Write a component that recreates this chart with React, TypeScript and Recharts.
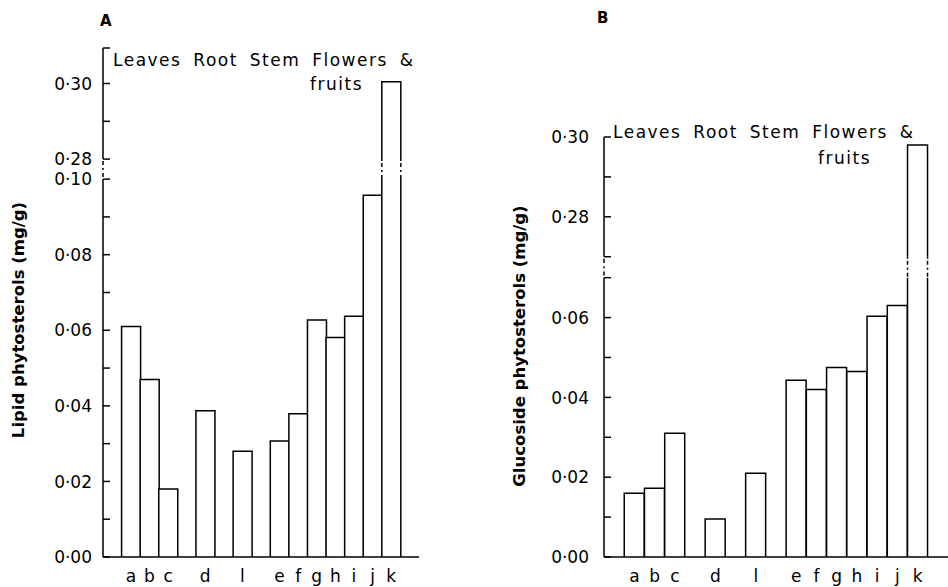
import React from 'react'
import { BarChart, Bar, XAxis, YAxis } from 'recharts'

// Plant parts, in the order drawn on the x axis
const categories = ['a', 'b', 'c', 'd', 'l', 'e', 'f', 'g', 'h', 'i', 'j', 'k']
// Slots on the x axis, empty ones are the spaces between groups
const slots = ['', 'a', 'b', 'c', '', 'd', '', 'l', '', 'e', 'f', 'g', 'h', 'i', 'j', 'k', '']

// mg/g
const lipidValues = [0.061, 0.047, 0.018, 0.0387, 0.028, 0.0307, 0.0379, 0.0627, 0.0581, 0.0637, 0.0957, 0.3005]
const glucosideValues = [0.016, 0.0172, 0.031, 0.0095, 0.021, 0.0443, 0.042, 0.0475, 0.0465, 0.0603, 0.063, 0.298]

const lipidTicks = [0, 0.01, 0.02, 0.03, 0.04, 0.05, 0.06, 0.07, 0.08, 0.09, 0.1, 0.28, 0.29, 0.3, 0.3094]
const lipidTickLabels = ['0·00', '', '0·02', '', '0·04', '', '0·06', '', '0·08', '', '0·10', '0·28', '', '0·30', '']
const glucosideTicks = [0, 0.01, 0.02, 0.03, 0.04, 0.05, 0.06, 0.07, 0.27, 0.28, 0.29, 0.3]
const glucosideTickLabels = ['0·00', '', '0·02', '', '0·04', '', '0·06', '', '', '0·28', '', '0·30']

const HEADER = 'Leaves Root Stem Flowers &'
const HEADER2 = 'fruits'
const FONT = '"DejaVu Sans", sans-serif'

interface AxisBreak {
  low: number // last value below the break
  high: number // first value above the break
  gap: number // size of the break, in axis units
  top: number // top of the axis
}

const lipidBreak: AxisBreak = { low: 0.1, high: 0.28, gap: 0.0053, top: 0.3094 }
const glucosideBreak: AxisBreak = { low: 0.07, high: 0.27, gap: 0.00525, top: 0.3 }

// squeeze the empty part of the axis out
const toAxis = (v: number, brk: AxisBreak) => (v <= brk.low ? v : brk.low + brk.gap + (v - brk.high))

const CHART_H = 587
const X_AXIS_H = 30

function buildData(values: number[], brk: AxisBreak) {
  return slots.map((s, i) => {
    if (!s) return { key: `_${i}`, label: '', raw: null, value: null }
    const raw = values[categories.indexOf(s)]
    return { key: s, label: s, raw, value: toAxis(raw, brk) }
  })
}

function makeBarShape(brk: AxisBreak) {
  return (props: any) => {
    const { x, y, width, height, payload } = props
    if (!height || height <= 0 || payload.value == null) return <g />
    const bottom = y + height
    const left = x
    const right = x + width
    if (payload.raw <= brk.low) {
      return (
        <path d={`M${left},${bottom}V${y}H${right}V${bottom}`} fill="#fff" stroke="#000" strokeWidth={1.5} />
      )
    }
    const ppu = height / payload.value
    const yLow = bottom - brk.low * ppu
    const yHigh = bottom - (brk.low + brk.gap) * ppu
    return (
      <g>
        <rect x={left} y={y} width={width} height={height} fill="#fff" />
        <path
          d={`M${left},${bottom}V${yLow}M${right},${bottom}V${yLow}M${left},${yHigh}V${y}H${right}V${yHigh}`}
          fill="none"
          stroke="#000"
          strokeWidth={1.5}
        />
        <path
          d={`M${left},${yHigh}V${yLow}M${right},${yHigh}V${yLow}`}
          fill="none"
          stroke="#000"
          strokeWidth={1.5}
          strokeDasharray="2 2 4 3 2 3 4"
        />
      </g>
    )
  }
}

// ticks point inward, into the plot
function makeTick(ticks: number[], labels: string[], brk: AxisBreak, axisX: number, labelGap: number) {
  const pos = ticks.map((t) => toAxis(t, brk))
  return (props: any) => {
    const { y, payload } = props
    const idx = pos.findIndex((p) => Math.abs(p - payload.value) < 1e-6)
    const label = idx >= 0 ? labels[idx] : ''
    return (
      <g>
        <line x1={axisX} x2={axisX + 7} y1={y} y2={y} stroke="#000" strokeWidth={1.5} />
        {label && (
          <text x={axisX - labelGap} y={y} dy="0.36em" textAnchor="end" fontSize={17} fontFamily={FONT} fill="#000">
            {label}
          </text>
        )}
      </g>
    )
  }
}

// dashed stretch of the y axis line where it is broken
function axisDash(brk: AxisBreak, plotH: number) {
  const top = toAxis(brk.top, brk)
  const ppu = plotH / top
  const upper = (top - (brk.low + brk.gap)) * ppu
  const g = brk.gap * ppu
  const lower = brk.low * ppu
  return [upper, g * 0.1, g * 0.2, g * 0.15, g * 0.1, g * 0.15, g * 0.2, g * 0.1, lower + 20].join(' ')
}

interface PanelProps {
  values: number[]
  brk: AxisBreak
  ticks: number[]
  tickLabels: string[]
  width: number
  axisX: number
  top: number
  right: number
  labelGap: number
}

function Panel({ values, brk, ticks, tickLabels, width, axisX, top, right, labelGap }: PanelProps) {
  const data = buildData(values, brk)
  const plotH = CHART_H - top - X_AXIS_H
  return (
    <BarChart
      width={width}
      height={CHART_H}
      data={data}
      margin={{ top, right, left: 0, bottom: 0 }}
      barCategoryGap={0}
      barGap={0}
    >
      <XAxis
        dataKey="key"
        height={X_AXIS_H}
        interval={0}
        tickFormatter={(k: string) => (k.startsWith('_') ? '' : k)}
        tickLine={false}
        tickSize={6}
        tickMargin={7}
        axisLine={{ stroke: '#000', strokeWidth: 1.5 }}
        tick={{ fill: '#000', fontSize: 17, fontFamily: FONT }}
      />
      <YAxis
        type="number"
        width={axisX}
        domain={[0, toAxis(brk.top, brk)]}
        allowDataOverflow
        ticks={ticks.map((t) => toAxis(t, brk))}
        interval={0}
        tickSize={0}
        tickMargin={0}
        tickLine={false}
        axisLine={{ stroke: '#000', strokeWidth: 1.5, strokeDasharray: axisDash(brk, plotH) }}
        tick={makeTick(ticks, tickLabels, brk, axisX, labelGap)}
      />
      <Bar dataKey="value" isAnimationActive={false} shape={makeBarShape(brk)} />
    </BarChart>
  )
}

export default function App() {
  return (
    <div style={{ position: 'absolute', left: 0, top: 0, width: 948, height: 587, background: '#fff' }}>
      <div style={{ position: 'absolute', left: 0, top: 0 }}>
        <Panel
          values={lipidValues}
          brk={lipidBreak}
          ticks={lipidTicks}
          tickLabels={lipidTickLabels}
          width={470}
          axisX={103}
          top={48}
          right={51}
          labelGap={11}
        />
      </div>
      <div style={{ position: 'absolute', left: 470, top: 0 }}>
        <Panel
          values={glucosideValues}
          brk={glucosideBreak}
          ticks={glucosideTicks}
          tickLabels={glucosideTickLabels}
          width={478}
          axisX={134}
          top={137}
          right={0}
          labelGap={15}
        />
      </div>
      <svg
        width={948}
        height={587}
        style={{ position: 'absolute', left: 0, top: 0, pointerEvents: 'none' }}
        fontFamily={FONT}
      >
        <text x={100} y={26} fontSize={15} fontWeight="bold">A</text>
        <text x={597} y={23} fontSize={15} fontWeight="bold">B</text>
        <text x={113} y={66} fontSize={17} letterSpacing={1.5} wordSpacing={5}>{HEADER}</text>
        <text x={310} y={90} fontSize={17} letterSpacing={1.5}>{HEADER2}</text>
        <text x={613} y={138} fontSize={17} letterSpacing={1.5} wordSpacing={5}>{HEADER}</text>
        <text x={818} y={164} fontSize={17} letterSpacing={1.5}>{HEADER2}</text>
        <text
          transform="translate(24,320) rotate(-90)"
          textAnchor="middle"
          fontSize={16.5}
          fontWeight="bold"
        >
          Lipid phytosterols (mg/g)
        </text>
        <text
          transform="translate(525,346) rotate(-90)"
          textAnchor="middle"
          fontSize={16.5}
          fontWeight="bold"
        >
          Glucoside phytosterols (mg/g)
        </text>
      </svg>
    </div>
  )
}
